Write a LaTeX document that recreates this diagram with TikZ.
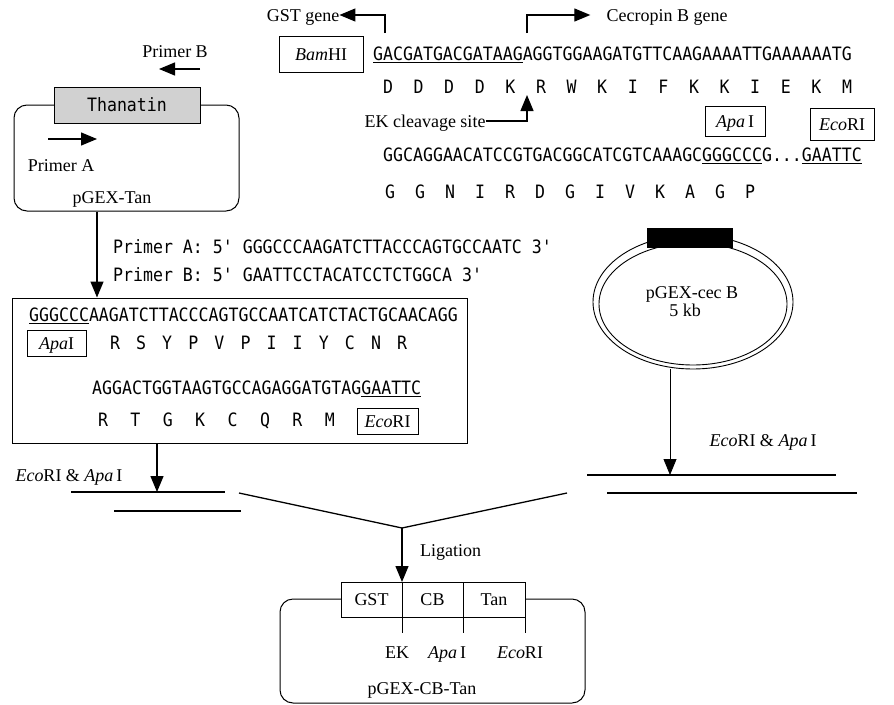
\documentclass[tikz,border=0pt]{standalone}
\usepackage{fontspec}
\setmainfont{Liberation Serif}
\newfontfamily\seqfont[FakeStretch=0.9]{DejaVu Sans Mono}
\usetikzlibrary{arrows.meta, positioning, shapes.geometric}

\begin{document}
\begin{tikzpicture}[x=1pt, y=-1pt,
every node/.style={inner sep=0pt, font=\fontsize{18}{20}\selectfont, text height=12pt, text depth=0pt},
seq/.style={font=\seqfont\fontsize{18.4}{20}\selectfont, text height=13.4pt, anchor=west},
aa/.style={font=\seqfont\fontsize{18.4}{20}\selectfont, text height=13.4pt},
site/.style={draw, line width=0.8pt, minimum width=#1, minimum height=26pt},
cell/.style={draw, fill=white, line width=0.9pt, outer sep=0pt, minimum height=35pt},
vec/.style={draw, rounded corners=13pt, line width=1pt},
arr/.style={-{Triangle[length=16pt, width=13pt]}, line width=1.3pt},
frag/.style={line width=2pt}
]
\useasboundingbox (0,0) rectangle (894,704);

% pGEX-Tan with thanatin insert
\node[vec, minimum width=225pt, minimum height=106pt] (tanvec) at (126.5,158) {};
\node[draw, fill=black!18, line width=1pt, minimum width=146pt, minimum height=36pt,
  font=\seqfont\fontsize{18.4}{20}\selectfont] (than) at (127,105) {Thanatin};
\node (pbl) at (175,51) {Primer B};
\coordinate (pbS) at (200,69);
\coordinate (pbE) at (159,69);
\draw[arr] (pbS) -- (pbE);
\coordinate (paS) at (48,139);
\coordinate (paE) at (97,139);
\draw[arr] (paS) -- (paE);
\node (pal) at (61,165) {Primer A};
\node (tanl) at (112,197) {pGEX-Tan};

% primers
\node[seq] (pa) at (113,247) {Primer A: 5' GGGCCCAAGATCTTACCCAGTGCCAATC 3'};
\node[seq] (pb) at (113,275) {Primer B: 5' GAATTCCTACATCCTCTGGCA 3'};

% PCR product
\node[draw, line width=1pt, minimum width=455pt, minimum height=145pt] (seqbox) at (239.5,370.5) {};
\coordinate (pcr) at (97,0);
\draw[arr] (tanvec.south -| pcr) -- (seqbox.north -| pcr);
\node[seq] (r1) at (29,315) {\underline{GGGCCC}AAGATCTTACCCAGTGCCAATCATCTACTGCAACAGG};
\node[site=59pt] (apaA) at (56.5,343) {\textit{Apa}I};
\foreach \a [count=\i from 0] in {R,S,Y,P,V,P,I,I,Y,C,N,R}
  \node[aa] (aaA\i) at (115+26.1*\i,343) {\a};
\node[seq] (r3) at (92,388) {AGGACTGGTAAGTGCCAGAGGATGTAG\underline{GAATTC}};
\foreach \a [count=\i from 0] in {R,T,G,K,C,Q,R,M}
  \node[aa] (aaB\i) at (103+32.4*\i,420) {\a};
\node[site=61pt] (ecoA) at (387.5,421) {\textit{Eco}RI};

% left fragment
\coordinate (cutL) at (157,492);
\draw[arr] (seqbox.south -| cutL) -- (cutL);
\node (enzL) at (69,475) {\textit{Eco}RI \& \textit{Apa}\,I};
\coordinate (l1a) at (71,492);
\coordinate (l1b) at (225,492);
\coordinate (l2a) at (114,511);
\coordinate (l2b) at (241,511);
\draw[frag] (l1a) -- (l1b);
\draw[frag] (l2a) -- (l2b);

% top: GST / cecropin B junction
\node (gstl) at (303,15) {GST gene};
\node (cecl) at (667,15) {Cecropin B gene};
\coordinate (gstS) at (385,33);
\coordinate (cecS) at (527,33);
\draw[arr] (gstS) |- (gstl.east);
\draw[arr, shorten >=16pt] (cecS) |- (cecl.west);
\node[site=84pt, minimum height=36pt] (bam) at (321,54) {\textit{Bam}HI};
\node[seq] (s1) at (373,54) {\underline{GACGATGACGATAAG}AGGTGGAAGATGTTCAAGAAAATTGAAAAAATG};
\foreach \a [count=\i from 0] in {D,D,D,D,K,R,W,K,I,F,K,K,I,E,K,M}
  \node[aa] (aaT\i) at (388+30.6*\i,87) {\a};
\node (ekl) at (425,121) {EK cleavage site};
\coordinate (ekT) at (527,95);
\draw[arr] (ekl.east) -| (ekT);
\node[site=60pt, minimum height=30pt] (apaB) at (735,121) {\textit{Apa}\,I};
\node[site=64pt, minimum height=32pt] (ecoB) at (842,124) {\textit{Eco}RI};
\node[seq] (s2) at (383,155) {GGCAGGAACATCCGTGACGGCATCGTCAAAGC\underline{GGGCCC}G...\underline{GAATTC}};
\foreach \a [count=\i from 0] in {G,G,N,I,R,D,G,I,V,K,A,G,P}
  \node[aa] (aaU\i) at (390+30*\i,192) {\a};

% pGEX-cec B
\node[draw, ellipse, line width=0.9pt, minimum width=200pt, minimum height=134pt] (cecvec) at (693,302) {};
\node[draw, ellipse, line width=0.9pt, minimum width=188pt, minimum height=122pt] (cecin) at (693,304) {};
\node[fill=black, minimum width=86pt, minimum height=20pt] (cecbar) at (690,238) {};
\node (cecn) at (692,292) {pGEX-cec B};
\node (ceckb) at (685,310) {5 kb};

% right fragment
\coordinate (cutR) at (670,475);
\draw[arr, line width=0.8pt] (cecvec.south -| cutR) -- (cutR);
\node (enzR) at (763,440) {\textit{Eco}RI \& \textit{Apa}\,I};
\coordinate (r1a) at (587,475);
\coordinate (r1b) at (836,475);
\coordinate (r2a) at (607,493);
\coordinate (r2b) at (857,493);
\draw[frag] (r1a) -- (r1b);
\draw[frag] (r2a) -- (r2b);

% ligation
\coordinate (vL) at (239,493);
\coordinate (apex) at (402,528);
\coordinate (vR) at (567,493);
\draw[line width=1.3pt] (vL) -- (apex) -- (vR);
\node[anchor=west] (lig) at (420,550) {Ligation};

% pGEX-CB-Tan
\node[vec, minimum width=305pt, minimum height=104pt] (cbvec) at (432.5,651) {};
\node[cell, minimum width=61pt] (gst) at (371.5,599.5) {GST};
\node[cell, minimum width=61pt, right=0pt of gst] (cb) {CB};
\node[cell, minimum width=62pt, right=0pt of cb] (tan) {Tan};
\draw[arr] (apex) -- (gst.north east);
\coordinate (tk) at (0,633);
\draw[line width=0.9pt] (gst.south east) -- (gst.south east |- tk);
\draw[line width=0.9pt] (cb.south east) -- (cb.south east |- tk);
\draw[line width=0.9pt] (tan.south east) -- (tan.south east |- tk);
\node (ekb) at (397,652) {EK};
\node (apab) at (447,652) {\textit{Apa}\,I};
\node (ecob) at (520,652) {\textit{Eco}RI};
\node (cbl) at (422,688) {pGEX-CB-Tan};
\end{tikzpicture}
\end{document}
